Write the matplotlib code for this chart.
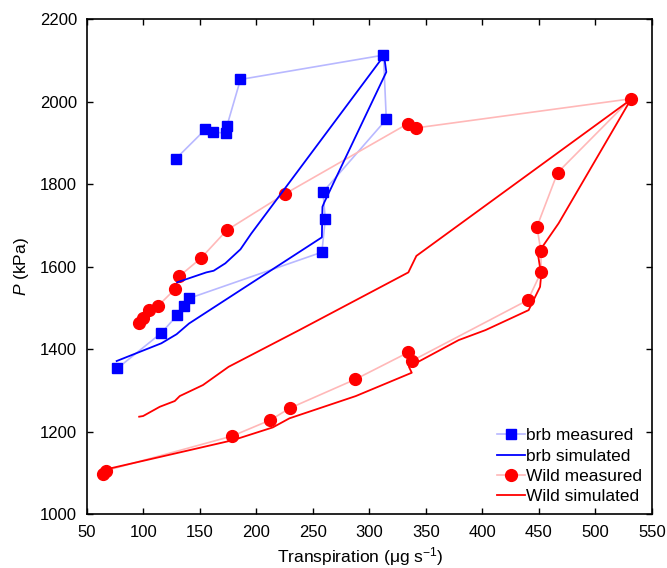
import matplotlib
matplotlib.use("Agg")
import matplotlib.pyplot as plt

plt.rcParams['font.family'] = ['Liberation Sans', 'DejaVu Sans']
plt.rcParams['mathtext.fontset'] = 'custom'
plt.rcParams['mathtext.rm'] = 'Liberation Sans'
plt.rcParams['mathtext.it'] = 'Liberation Sans:italic'

# Data
blue_meas_x = [77, 116, 130, 136, 140.5, 258, 261, 259, 315, 312.5, 186, 174, 173, 162, 155, 129]
blue_meas_y = [1353, 1439, 1482, 1504, 1523, 1635, 1715, 1781, 1957, 2113, 2054, 1941, 1924, 1926, 1933, 1862]

blue_sim_x = [76.5, 116, 129.5, 140.5, 258, 258.5, 260, 315, 313, 195.5, 186, 172.6, 162.3, 155.8, 130]
blue_sim_y = [1371, 1414, 1436, 1462, 1671, 1745, 1755, 2072, 2112, 1680, 1642, 1608, 1590, 1586, 1562]

red_meas_x = [64.6, 66.7, 178.7, 212.5, 229.9, 287.5, 334.5, 338, 440.3, 451.8, 451.8, 448.2,
              466.5, 531.2, 341.6, 334.2, 225.1, 174, 151.1, 132, 128.1, 113.2, 104.9, 99.9, 96.1]
red_meas_y = [1097, 1105, 1189, 1228, 1257, 1326.5, 1392, 1372, 1519, 1586, 1637, 1696.5,
              1828, 2007, 1936.5, 1947, 1776, 1688.5, 1620.6, 1577, 1545.5, 1505, 1494.5, 1476, 1463]

red_sim_x = [66.7, 179.3, 214.6, 229.3, 288, 337.5, 335, 379, 402.7, 440.9, 451, 452, 449, 467.4,
             531.2, 341.6, 334.5, 238, 175.5, 152.8, 132.3, 127.9, 114.6, 99.9, 96.4]
red_sim_y = [1108, 1179, 1210, 1232, 1286, 1342.6, 1357, 1421.8, 1446, 1494.5, 1551, 1580, 1632, 1705,
             2005, 1626, 1586, 1446, 1357, 1312.7, 1286, 1274, 1260, 1237.6, 1236]

x_ticks = [50, 100, 150, 200, 250, 300, 350, 400, 450, 500, 550]
y_ticks = [1000, 1200, 1400, 1600, 1800, 2000, 2200]

fig = plt.figure(figsize=(6.67, 5.68), dpi=100)
ax = fig.add_axes([0.130, 0.0951, 0.8475, 0.871])

ax.plot(blue_meas_x, blue_meas_y, color='#b8b8ff', lw=1.2, marker='s', ms=6.5,
        mfc='#0000ff', mec='#0000ff', label='brb measured', zorder=2)
ax.plot(blue_sim_x, blue_sim_y, color='#0000ff', lw=1.3, label='brb simulated', zorder=3)
ax.plot(red_meas_x, red_meas_y, color='#ffb8b8', lw=1.2, marker='o', ms=8.5,
        mfc='#ff0000', mec='#ff0000', label='Wild measured', zorder=2)
ax.plot(red_sim_x, red_sim_y, color='#ff0000', lw=1.3, label='Wild simulated', zorder=3)

ax.set_xlim(50, 550)
ax.set_ylim(1000, 2200)
ax.set_xticks(x_ticks)
ax.set_yticks(y_ticks)
ax.tick_params(direction='in', top=True, right=True, labelsize=12, length=4, width=1)
ax.tick_params(axis='x', pad=8)
ax.tick_params(axis='y', pad=7)
for s in ax.spines.values():
    s.set_linewidth(1.2)

ax.set_xlabel('Transpiration (μg s$^{-1}$)', fontsize=12.5, labelpad=4)
ax.xaxis.set_label_coords(0.484, -0.062)
ax.set_ylabel('$P$ (kPa)', fontsize=12.5, labelpad=6)

ax.legend(loc='lower right', frameon=False, fontsize=12.5, handlelength=1.6,
          handletextpad=0.1, labelspacing=0.3, borderaxespad=0.15)

fig.savefig('out.png', dpi=100)
